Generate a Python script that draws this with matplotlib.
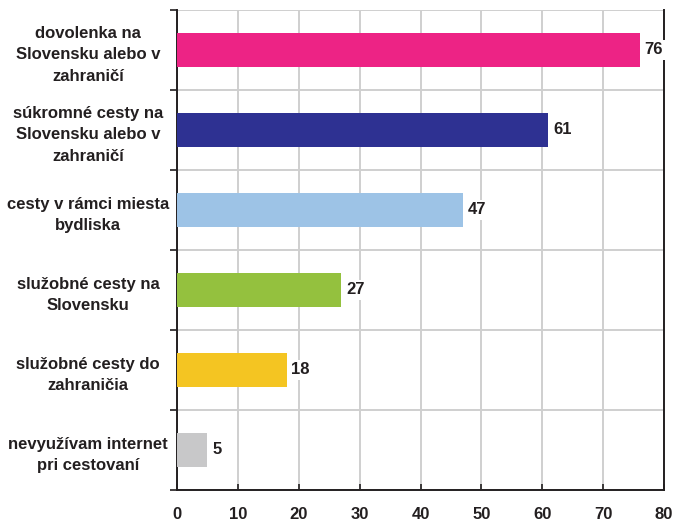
import matplotlib.pyplot as plt
import numpy as np

plt.rcParams['font.family'] = ['Liberation Sans', 'DejaVu Sans']

# kategórie zhora nadol
kategorie = [
    "dovolenka na\nSlovensku alebo v\nzahraničí",
    "súkromné cesty na\nSlovensku alebo v\nzahraničí",
    "cesty v rámci miesta\nbydliska",
    "služobné cesty na\nSlovensku",
    "služobné cesty do\nzahraničia",
    "nevyužívam internet\npri cestovaní",
]
hodnoty = [76, 61, 47, 27, 18, 5]
farby = ["#ED2385", "#2E3192", "#9DC3E6", "#94C13E", "#F4C522", "#C8C8C9"]
x_ticky = [0, 10, 20, 30, 40, 50, 60, 70, 80]

fig = plt.figure(figsize=(6.73, 5.22), dpi=100)
ax = fig.add_axes([177 / 673, 32 / 522, 487 / 673, 480 / 522])

n = len(kategorie)
pozicie = np.arange(n)[::-1]
ax.barh(pozicie, hodnoty, height=0.42, color=farby, zorder=3)

# popisky hodnôt s bielym pozadím
for y, v in zip(pozicie, hodnoty):
    ax.text(v + 0.8, y, str(v), va="center", ha="left", fontsize=12,
            fontweight="bold", color="#231F20", zorder=4,
            bbox=dict(facecolor="white", edgecolor="none", pad=2))

ax.set_xlim(0, 80)
ax.set_ylim(-0.5, n - 0.5)
ax.set_xticks(x_ticky)
ax.set_xticklabels([str(t) for t in x_ticky], fontsize=12, fontweight="bold",
                   color="#231F20")

# hranice kategórií ako ticky na osi y
hranice = np.arange(-0.5, n, 1.0)
ax.set_yticks(hranice)
ax.set_yticklabels([])
ax.set_yticks(pozicie, minor=True)
ax.set_yticklabels(kategorie, minor=True, fontsize=12, fontweight="bold",
                   color="#231F20", ha="center", linespacing=1.55)
ax.tick_params(axis="y", which="minor", length=0, pad=64)
ax.tick_params(axis="y", which="major", length=5, width=1.2, color="#231F20",
               direction="out")
ax.tick_params(axis="x", length=4, width=1.2, color="#231F20", direction="in",
               pad=12)

ax.grid(True, which="major", color="#CFCFCF", linewidth=1.4, zorder=0)

for s in ["left", "bottom", "right"]:
    ax.spines[s].set_color("#231F20")
    ax.spines[s].set_linewidth(1.4)
ax.spines["top"].set_visible(False)

fig.savefig("out.png", dpi=100)
